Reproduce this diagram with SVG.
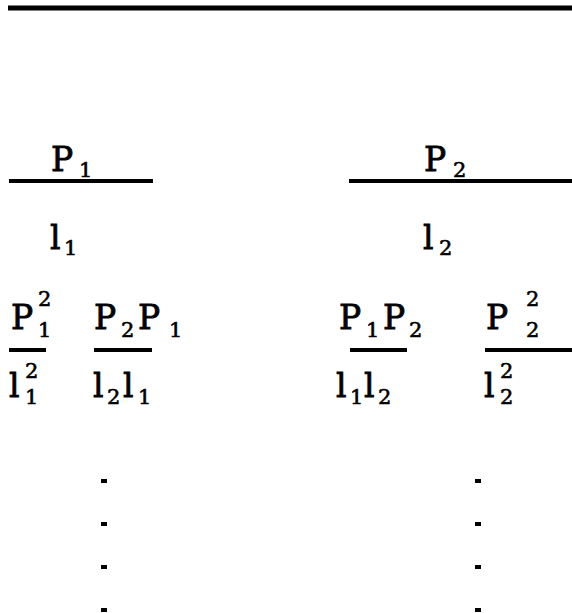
<svg xmlns="http://www.w3.org/2000/svg" width="572" height="613" viewBox="0 0 572 613">
<style>
.m{font-family:"DejaVu Serif","Liberation Serif",serif;font-size:33px;fill:#000;stroke:#000;stroke-width:0.8}
.s{font-family:"DejaVu Serif","Liberation Serif",serif;font-size:21px;fill:#000;stroke:#000;stroke-width:0.6}
.bar{stroke:#000;stroke-width:4;fill:none}
.dot{fill:#000}
</style>
<rect width="572" height="613" fill="#fff"/>
<g id="connectors">
<line x1="8" y1="8" x2="572" y2="8" stroke="#000" stroke-width="5"/>
<line class="bar" x1="9" y1="181" x2="153" y2="181"/>
<line class="bar" x1="349" y1="181" x2="572" y2="181"/>
<line class="bar" x1="9" y1="350" x2="46" y2="350"/>
<line class="bar" x1="94" y1="350" x2="152" y2="350"/>
<line class="bar" x1="350" y1="350" x2="407" y2="350"/>
<line class="bar" x1="485" y1="350" x2="572" y2="350"/>
</g>
<g id="node-P1">
<text class="m" x="51" y="171">P</text><text class="s" x="79" y="177">1</text>
<text class="m" x="50" y="249">l</text><text class="s" x="64" y="255">1</text>
</g>
<g id="node-P2">
<text class="m" x="424" y="171">P</text><text class="s" x="453" y="177">2</text>
<text class="m" x="423" y="249">l</text><text class="s" x="439" y="255">2</text>
</g>
<g id="node-P1P1">
<text class="m" x="11" y="329">P</text><text class="s" x="38" y="306">2</text><text class="s" x="38" y="337">1</text>
<text class="m" x="9" y="397">l</text><text class="s" x="25" y="378">2</text><text class="s" x="25" y="404">1</text>
</g>
<g id="node-P2P1">
<text class="m" x="94" y="329">P</text><text class="s" x="121" y="337">2</text><text class="m" x="138" y="329">P</text><text class="s" x="169" y="337">1</text>
<text class="m" x="93" y="397">l</text><text class="s" x="107" y="404">2</text><text class="m" x="123" y="397">l</text><text class="s" x="138" y="404">1</text>
</g>
<g id="node-P1P2">
<text class="m" x="339" y="329">P</text><text class="s" x="366" y="337">1</text><text class="m" x="383" y="329">P</text><text class="s" x="409" y="337">2</text>
<text class="m" x="336" y="397">l</text><text class="s" x="350" y="404">1</text><text class="m" x="364" y="397">l</text><text class="s" x="378" y="404">2</text>
</g>
<g id="node-P2P2">
<text class="m" x="486" y="329">P</text><text class="s" x="526" y="306">2</text><text class="s" x="526" y="337">2</text>
<text class="m" x="484" y="397">l</text><text class="s" x="500" y="378">2</text><text class="s" x="500" y="404">2</text>
</g>
<g id="dots">
<rect class="dot" x="101" y="479" width="6" height="4"/>
<rect class="dot" x="101" y="522" width="6" height="4"/>
<rect class="dot" x="101" y="565" width="6" height="4"/>
<rect class="dot" x="101" y="608" width="6" height="4"/>
<rect class="dot" x="475" y="479" width="6" height="4"/>
<rect class="dot" x="475" y="522" width="6" height="4"/>
<rect class="dot" x="475" y="565" width="6" height="4"/>
<rect class="dot" x="475" y="608" width="6" height="4"/>
</g>
</svg>
